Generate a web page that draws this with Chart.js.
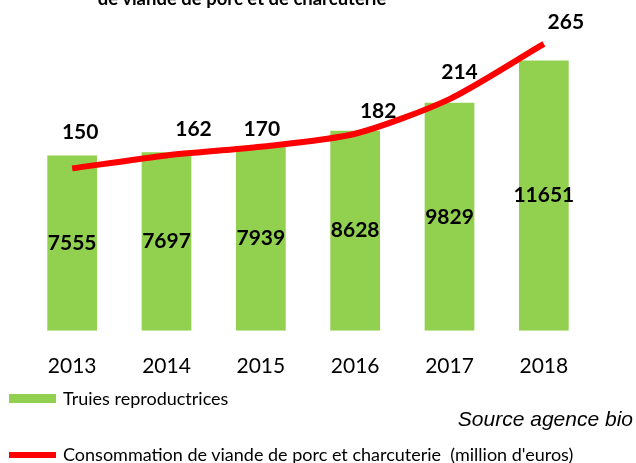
<!DOCTYPE html>
<html>
<head>
<meta charset="utf-8">
<script src="https://cdn.jsdelivr.net/npm/chart.js@4.4.0/dist/chart.umd.min.js"></script>
<style>
  body { margin: 0; background: #fff; overflow: hidden; }
  #wrap { position: relative; width: 636px; height: 463px; }
  #chart { position: absolute; left: 0; top: 0; }
  .title { position: absolute; left: 0; top: -11px; width: 484px; text-align: center;
           font: bold 18.5px Lato, sans-serif; line-height: 1; color: #000; }
  .leg { position: absolute; left: 63px; font: 18px Lato, sans-serif; color: #000; line-height: 1; }
  .swatch { position: absolute; left: 9px; }
  .source { position: absolute; right: 3px; top: 407px; font: italic 21px "Liberation Sans", Arial, sans-serif; color: #000; }
</style>
</head>
<body>
<div id="wrap">
  <canvas id="chart" width="636" height="463"></canvas>
  <div class="title">de viande de porc et de charcuterie</div>
  <div class="swatch" style="top:394px;width:47px;height:9px;background:#92D050"></div>
  <div class="leg" style="top:389px">Truies reproductrices</div>
  <div class="source">Source agence bio</div>
  <div class="swatch" style="top:452px;width:47px;height:6px;background:#FF0000"></div>
  <div class="leg" style="top:445px">Consommation de viande de porc et charcuterie&nbsp; (million d'euros)</div>
</div>
<script>
// data
const years = ['2013', '2014', '2015', '2016', '2017', '2018'];
const truies = [7555, 7697, 7939, 8628, 9829, 11651];
const consommation = [150, 162, 170, 182, 214, 265];

// label offsets for the line values (moved by hand in the original)
const lineLabelOffsets = [[8, -36], [27, -26], [1, -18], [23, -23], [10, -27], [22, -22]];

const valueLabels = {
  id: 'valueLabels',
  afterDatasetsDraw(chart) {
    const ctx = chart.ctx;
    ctx.save();
    ctx.fillStyle = '#000';
    ctx.font = 'bold 21px Lato, sans-serif';
    ctx.textAlign = 'center';
    ctx.textBaseline = 'middle';
    // dataset 1 = bars, dataset 0 = line
    chart.getDatasetMeta(1).data.forEach((bar, i) => {
      ctx.fillText(truies[i], bar.x, (bar.y + bar.base) / 2);
    });
    chart.getDatasetMeta(0).data.forEach((pt, i) => {
      const off = lineLabelOffsets[i];
      ctx.fillText(consommation[i], pt.x + off[0], pt.y + off[1]);
    });
    ctx.restore();
  }
};

new Chart(document.getElementById('chart'), {
  data: {
    labels: years,
    datasets: [
      {
        type: 'line',
        label: "Consommation de viande de porc et charcuterie (million d'euros)",
        data: consommation,
        yAxisID: 'y2',
        borderColor: '#FF0000',
        borderWidth: 6,
        pointRadius: 0,
        tension: 0.25,
        borderCapStyle: 'butt',
        order: 0
      },
      {
        type: 'bar',
        label: 'Truies reproductrices',
        data: truies,
        yAxisID: 'y',
        backgroundColor: '#92D050',
        categoryPercentage: 1,
        barPercentage: 0.527,
        order: 1
      }
    ]
  },
  options: {
    responsive: false,
    animation: false,
    layout: { padding: { left: 25, right: 45, top: 6, bottom: 69 } },
    plugins: { legend: { display: false }, tooltip: { enabled: false } },
    scales: {
      x: {
        grid: { display: false },
        border: { display: false },
        ticks: { color: '#000', padding: 15, font: { family: 'Lato', size: 21 } }
      },
      y: { display: false, min: 0, max: 14000 },
      y2: { display: false, min: 0, max: 300 }
    }
  },
  plugins: [valueLabels]
});
</script>
</body>
</html>
